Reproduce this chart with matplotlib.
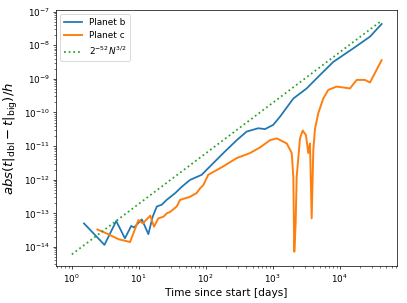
import matplotlib
matplotlib.use("Agg")
import matplotlib.pyplot as plt

# planet b
t_b = [1.52, 3.07, 4.6, 6.2, 7.7, 8.5, 11.1, 13.9, 16.1, 18.6, 22, 26, 35, 44,
       58, 87, 116, 183, 290, 408, 609, 768, 1020, 1285, 2032, 3216, 5080,
       8034, 15970, 28330, 42360]
err_b = [5.0e-14, 1.15e-14, 5.9e-14, 1.8e-14, 4.2e-14, 3.8e-14, 6.6e-14,
         2.4e-14, 7.9e-14, 1.6e-13, 1.8e-13, 2.5e-13, 4.0e-13, 6.2e-13,
         9.8e-13, 1.4e-12, 2.5e-12, 6.2e-12, 1.5e-11, 2.7e-11, 3.4e-11,
         3.2e-11, 4.3e-11, 7.5e-11, 2.6e-10, 5.2e-10, 1.3e-9, 3.2e-9,
         8.1e-9, 1.8e-8, 4.3e-8]

# planet c
t_c = [2.41, 3.33, 4.97, 7.4, 9.87, 11.5, 14.8, 16.9, 19.6, 23.3, 26.2, 29.3,
       36.9, 41.3, 58, 73, 82, 92, 109, 183, 290, 458, 646, 912, 1148, 1618,
       1922, 2032, 2100, 2200, 2280, 2555, 2805, 3141, 3400, 3603, 3818, 4040,
       4276, 4790, 5690, 6760, 9020, 14250, 17940, 23870, 28330, 33650, 42360]
err_c = [3.3e-14, 2.5e-14, 1.7e-14, 1.4e-14, 6.3e-14, 5.0e-14, 8.5e-14,
         4.0e-14, 7.1e-14, 7.9e-14, 1.0e-13, 1.1e-13, 1.6e-13, 2.5e-13,
         3.1e-13, 4.0e-13, 5.5e-13, 6.9e-13, 1.4e-12, 2.5e-12, 4.4e-12,
         6.2e-12, 9.1e-12, 1.5e-11, 1.7e-11, 1.2e-11, 6.2e-12, 1.2e-12,
         7.2e-15, 5.0e-14, 1.2e-12, 1.7e-11, 2.9e-11, 2.1e-11, 6.2e-12,
         1.2e-11, 7.1e-14, 7.6e-12, 3.2e-11, 9.5e-11, 2.6e-10, 4.7e-10,
         5.9e-10, 5.2e-10, 9.3e-10, 9.3e-10, 7.8e-10, 1.5e-9, 3.6e-9]

# reference 2^-52 N^(3/2) line
t_ref = [1.0, 42360]
err_ref = [6.0e-15, 5.4e-8]

dpi = 63.6
fig = plt.figure(figsize=(407 / dpi, 303 / dpi), dpi=dpi)
ax = fig.add_axes([0.1376, 0.122, 0.838, 0.845])

ax.plot(t_b, err_b, color="C0", lw=2, label="Planet b")
ax.plot(t_c, err_c, color="C1", lw=2.2, label="Planet c")
ax.plot(t_ref, err_ref, color="C2", ls=":", lw=2,
        label=r"$2^{-52}N^{3/2}$")

ax.set_xscale("log")
ax.set_yscale("log")
ax.set_xlim(0.58, 72000)
ax.set_ylim(2.7e-15, 1.12e-7)

ax.set_xlabel("Time since start [days]", fontsize=12)
ax.set_ylabel(r"$abs(t|_{\rm dbl}-t|_{\rm big})/h$", fontsize=15)
ax.tick_params(labelsize=10)
ax.legend(loc="upper left", fontsize=10)

fig.savefig("out.png", dpi=dpi)
